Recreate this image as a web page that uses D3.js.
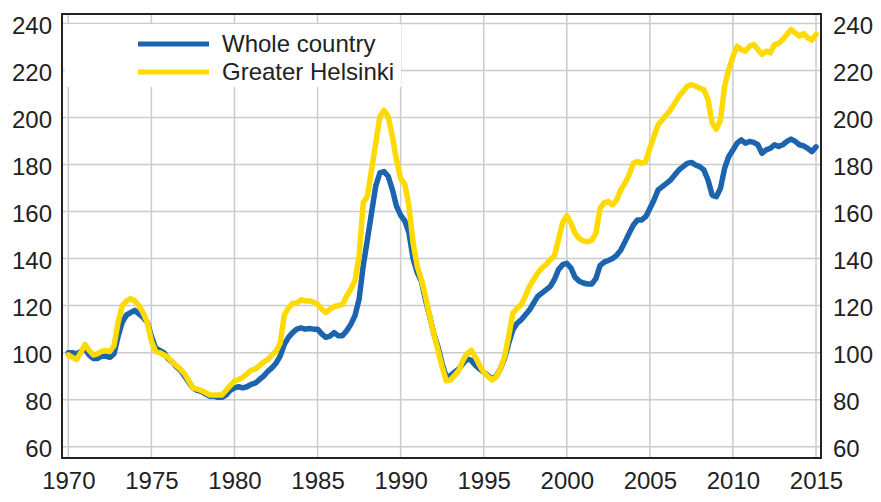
<!DOCTYPE html>
<html lang="en">
<head>
	<meta charset="UTF-8">
	<title>House prices</title>
	<script src="https://cdn.jsdelivr.net/npm/d3@7"></script>
	<style>

body {
	margin: 0;
	background: #fff;
}

svg {
	display: block;
	font-family: "Liberation Sans", Arial, sans-serif;
}

.grid line {
	stroke: #cbcbcb;
	stroke-width: 1.5px;
}

.tick-label {
	font-size: 24px;
	fill: #222;
}

.line {
	fill: none;
	stroke-width: 5.5px;
	stroke-linejoin: round;
	stroke-linecap: round;
}

</style>
</head>
<body>
	<svg width="881" height="502"></svg>
	<script type="text/javascript">
	// quarterly index, 1970 = 100, first value is 1970 Q1
	var startYear = 1970;

	var wholeCountry = [
		100, 100, 99.5, 100.5,
		101.5, 99, 97.5, 97.5,
		98.5, 98.5, 98, 99.5,
		107, 113, 116, 117,
		118, 116.5, 115, 113,
		107, 102, 101, 100,
		97.5, 96, 94, 92.5,
		90, 87.5, 85, 84,
		83.5, 82.5, 81.5, 81.5,
		81, 81, 82, 84,
		85, 85.5, 85, 85.5,
		86.5, 87, 88.5, 90,
		92, 93.5, 95.5, 98.5,
		103.5, 106.5, 108.5, 110,
		110.5, 110, 110.3, 110,
		110, 108, 106.5, 107,
		108.5, 107.2, 107.2, 109.3,
		112, 115.7, 122.7, 137,
		148, 159.5, 170.8, 176.4,
		177, 175, 169.4, 162.3,
		158.5, 156, 151, 140,
		134, 130.3, 122.4, 115.3,
		108, 102.4, 95.3, 89.6,
		90.3, 91.7, 93.1, 95.3,
		97.4, 96.7, 94.6, 93.1,
		91.7, 90.3, 88.9, 89.9,
		93.1, 97.4, 103.9, 109.6,
		112.4, 113.9, 116, 118.1,
		121, 123.9, 125.3, 126.7,
		128.1, 131, 135.3, 137.4,
		138, 136, 132, 130.4,
		129.6, 129.2, 129.2, 131.5,
		137, 138.5, 139.2, 140,
		141.4, 143.6, 147.1, 150.7,
		154.2, 156.4, 156.4, 157.8,
		161.3, 164.9, 169.2, 170.6,
		172, 173.4, 175.6, 177.7,
		179.1, 180.5, 180.9, 179.8,
		179.1, 177.7, 173.4, 167,
		166.3, 169.9, 178.4, 183.4,
		186.2, 189.1, 190.5, 189.1,
		189.8, 189.4, 188.4, 184.8,
		186.2, 186.9, 188.4, 187.7,
		188.4, 189.8, 190.8, 189.8,
		188.4, 187.9, 186.9, 185.5,
		187.5
	];

	var greaterHelsinki = [
		99, 98, 97, 100,
		103.5, 101, 99, 99.5,
		100.5, 101, 100.5, 103,
		113, 120, 122, 123,
		122, 120, 117, 113,
		105, 100.5, 100, 99,
		98, 96, 94.5, 93,
		91, 88, 85, 84.5,
		84, 83, 82, 82,
		82, 82, 84, 86,
		88, 88.5, 89.5, 91,
		92.5, 93, 94.5, 96,
		97, 99, 100.5, 104,
		116, 119, 121, 121,
		122.5, 122, 122, 121.5,
		120.6, 118.5, 117, 118.5,
		119.6, 120, 120.6, 124,
		127, 130.5, 141, 163.7,
		166.5, 177.8, 189, 200.4,
		203, 200.4, 192, 182,
		174, 171.7, 162.4, 146.7,
		136.7, 131, 123.9, 115.3,
		108, 101, 93.9, 88,
		88.4, 90.3, 92.4, 96.7,
		99.6, 101, 98.1, 94.6,
		91.7, 89.9, 88.4, 89.6,
		93.1, 98.1, 106.7, 116.7,
		118.9, 120.3, 123.9, 128.1,
		131, 133.9, 136, 137.4,
		139.6, 141, 148.1, 155.3,
		158.3, 155, 150.7, 148.5,
		147.5, 147.1, 147.8, 150.7,
		161.3, 163.8, 164.2, 162.8,
		164.9, 169.2, 172, 175.6,
		180.5, 181.3, 180.5, 181.3,
		187, 192, 196.9, 199,
		201.2, 203.3, 206.1, 209,
		211.1, 213.3, 214, 213.3,
		212.5, 211.8, 207.6, 197.6,
		195, 199, 213.3, 220.4,
		226, 230.3, 228.9, 228.2,
		230.3, 231, 228.9, 226.8,
		228.2, 227.5, 231, 231.5,
		233.2, 235.3, 237.4, 236,
		234.6, 235.7, 233.9, 232.9,
		235.3
	];

	var xTicks = [1970, 1975, 1980, 1985, 1990, 1995, 2000, 2005, 2010, 2015];
	var yTicks = [60, 80, 100, 120, 140, 160, 180, 200, 220, 240];

	var seriesNames = ["Whole country", "Greater Helsinki"];
	var seriesColors = ["#1c64ae", "#ffda00"];

	var svg = d3.select("svg"),
		margin = {top: 14, right: 60, bottom: 44, left: 62},
		width = +svg.attr("width") - margin.left - margin.right,
		height = +svg.attr("height") - margin.top - margin.bottom;

	var x = d3.scaleLinear().domain([1969.62, 2015.3]).range([0, width]);
	var y = d3.scaleLinear().domain([55.2, 244]).range([height, 0]);

	var g = svg.append("g").attr("transform", "translate(" + margin.left + "," + margin.top + ")");

	// grid
	var grid = g.append("g").attr("class", "grid");
	grid.selectAll(".gx").data(xTicks).enter().append("line")
		.attr("x1", function(d) { return x(d); })
		.attr("x2", function(d) { return x(d); })
		.attr("y1", 0)
		.attr("y2", height);
	grid.selectAll(".gy").data(yTicks).enter().append("line")
		.attr("x1", 0)
		.attr("x2", width)
		.attr("y1", function(d) { return y(d); })
		.attr("y2", function(d) { return y(d); });

	// axes: labels only, drawn with d3 axis generators
	var axisLeft = g.append("g")
		.call(d3.axisLeft(y).tickValues(yTicks).tickSize(0).tickPadding(10));
	var axisRight = g.append("g")
		.attr("transform", "translate(" + width + ",0)")
		.call(d3.axisRight(y).tickValues(yTicks).tickSize(0).tickPadding(12));
	var axisBottom = g.append("g")
		.attr("transform", "translate(0," + height + ")")
		.call(d3.axisBottom(x).tickValues(xTicks).tickFormat(d3.format("d")).tickSize(0).tickPadding(14));

	[axisLeft, axisRight, axisBottom].forEach(function(a) {
		a.select(".domain").remove();
		a.attr("font-family", null).attr("font-size", null);
		a.selectAll("text").attr("class", "tick-label");
	});
	axisLeft.selectAll("text").attr("dy", "0.42em");
	axisRight.selectAll("text").attr("dy", "0.42em");
	axisBottom.selectAll("text").attr("dy", "0.71em");

	// lines
	var line = d3.line()
		.x(function(d, i) { return x(startYear + i / 4); })
		.y(function(d) { return y(d); });

	[wholeCountry, greaterHelsinki].forEach(function(s, i) {
		g.append("path")
			.datum(s)
			.attr("class", "line")
			.attr("stroke", seriesColors[i])
			.attr("d", line);
	});

	// legend
	var legend = g.append("g").attr("transform", "translate(3,10)");
	legend.append("rect")
		.attr("width", 336)
		.attr("height", 63)
		.attr("fill", "#fff");
	seriesNames.forEach(function(name, i) {
		var row = legend.append("g").attr("transform", "translate(0," + (20 + i * 28) + ")");
		row.append("line")
			.attr("x1", 73).attr("x2", 144)
			.attr("stroke", seriesColors[i])
			.attr("stroke-width", 5);
		row.append("text")
			.attr("class", "tick-label")
			.attr("x", 157)
			.attr("dy", "0.35em")
			.text(name);
	});

	// frame
	g.append("rect")
		.attr("width", width)
		.attr("height", height)
		.attr("fill", "none")
		.attr("stroke", "#222")
		.attr("stroke-width", 2);
	</script>
</body>
</html>
